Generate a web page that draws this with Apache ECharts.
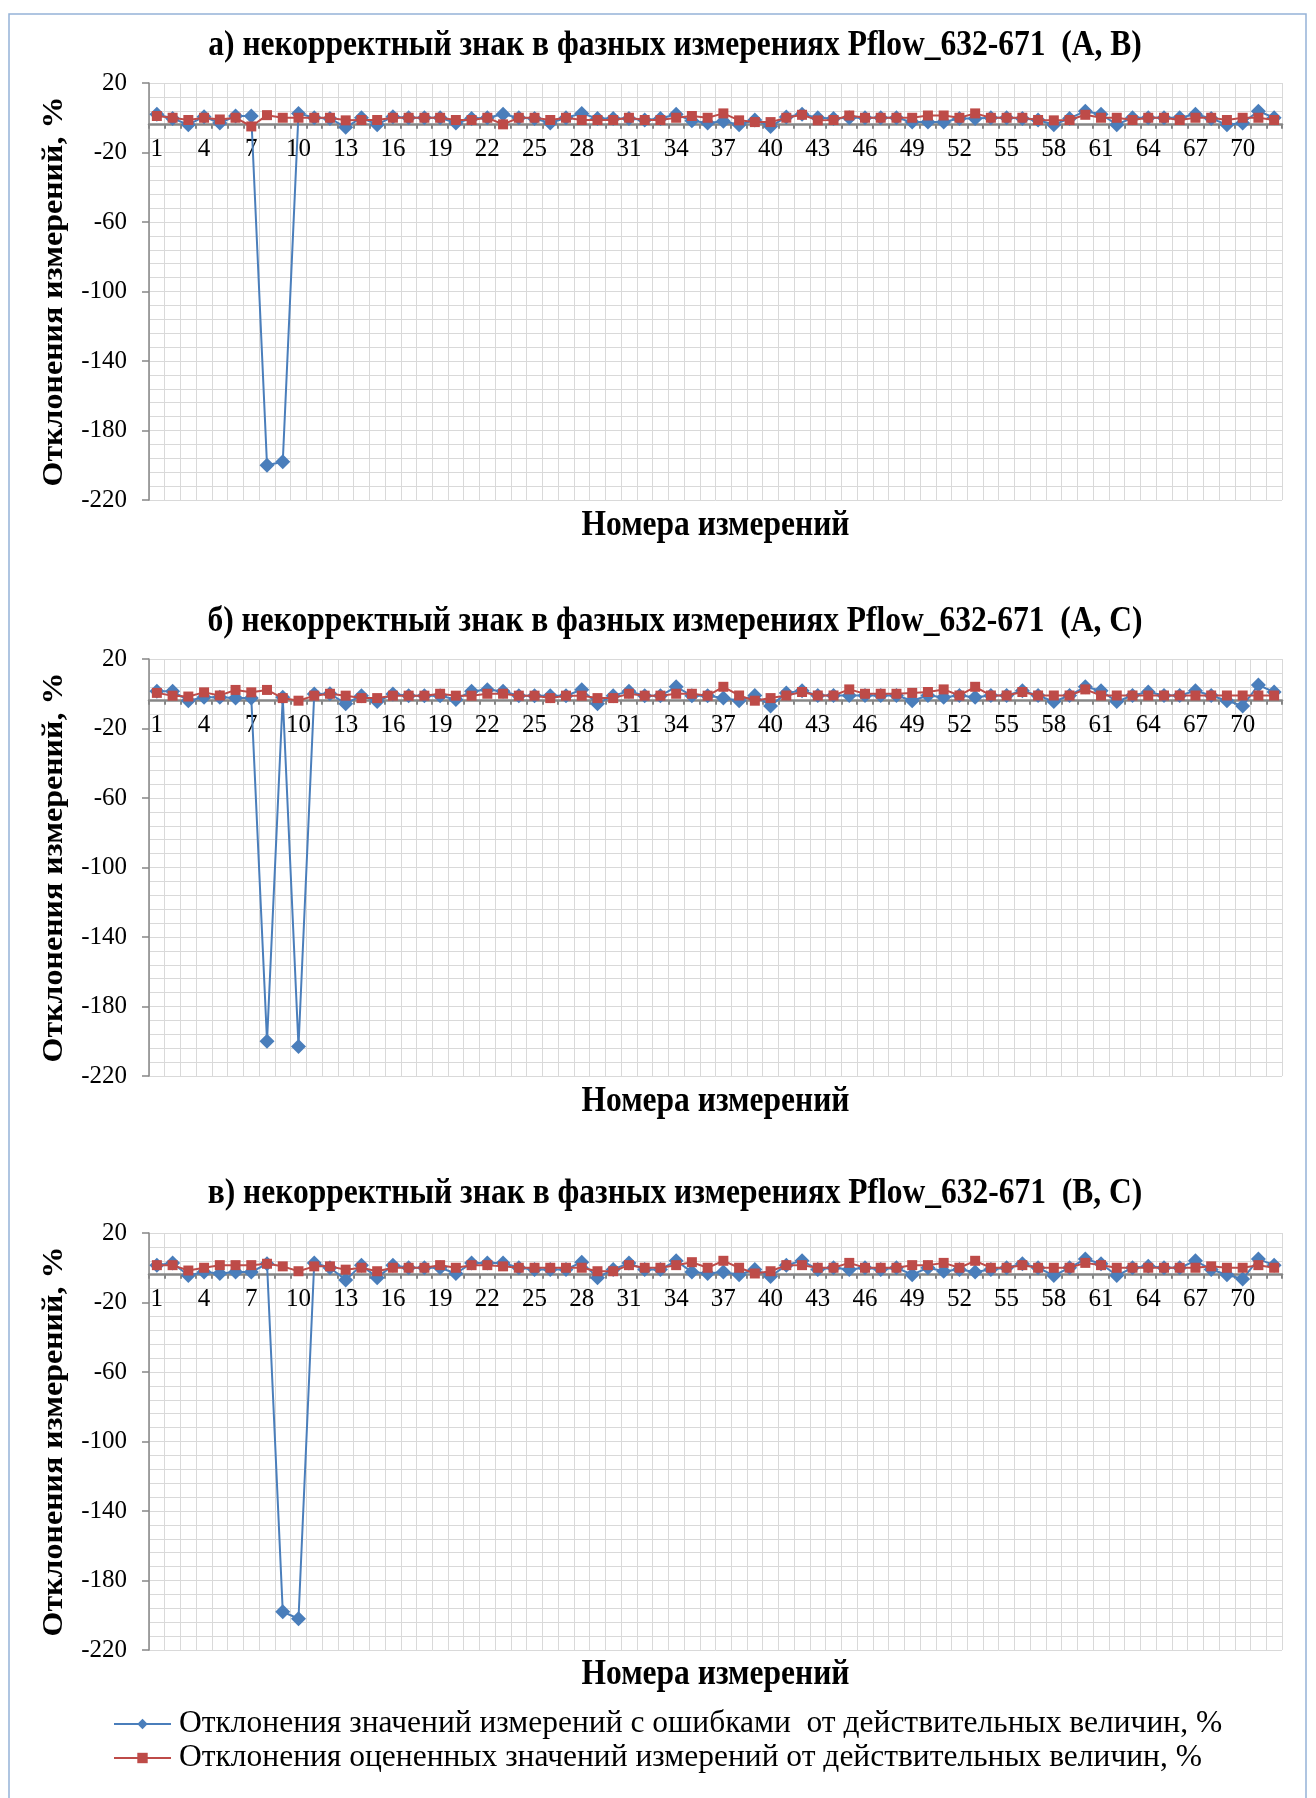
<!DOCTYPE html>
<html><head><meta charset="utf-8">
<script src="https://cdn.jsdelivr.net/npm/echarts@6/dist/echarts.min.js"></script>
<style>html,body{margin:0;padding:0;background:#fff}#c{width:1316px;height:1798px}</style>
</head><body><div id="c"></div>
<script>
// ---------- data ----------
const categories = Array.from({length: 72}, (_, i) => String(i + 1));
const yTickLabels = [20, -20, -60, -100, -140, -180, -220];
const xAxisCrossValue = -4;

const chartTitles = [
  'а) некорректный знак в фазных измерениях Pflow_632-671  (A, B)',
  'б) некорректный знак в фазных измерениях Pflow_632-671  (A, C)',
  'в) некорректный знак в фазных измерениях Pflow_632-671  (B, C)'
];
const xAxisName = 'Номера измерений';
const yAxisName = 'Отклонения измерений, %';
const seriesNames = [
  'Отклонения значений измерений с ошибками  от действительных величин, %',
  'Отклонения оцененных значений измерений от действительных величин, %'
];

const blueA = [2, -0.4, -4, 0.6, -3, 1, 1, -200, -198, 2.5, 0, -0.4, -5.5, 0, -4, 0.6, 0, 0, 0, -3,
  -0.4, 0, 2, 0, -0.4, -3, 0, 2.5, -0.4, -0.4, -0.4, -1.3, -0.4, 2, -1.7, -3, -2, -4, -1.3, -5,
  0.4, 2, 0, -0.4, 0, 0, 0, 0, -2.5, -2.5, -2.5, -0.4, -0.4, 0, 0, -0.4, -1.3, -4, -0.4, 3.8,
  2, -4, 0, 0, 0, 0, 2, -0.4, -4, -3, 3.8, 0];
const redA = [1, 0, -1.3, 0, -1, 0, -5, 1.5, 0, 0, 0, 0, -1.5, -1.3, -1.3, 0, 0, 0, 0, -1.3,
  -1.3, 0, -3.8, 0, 0, -1.3, 0, -1.3, -1.3, -1.3, 0, -1.3, -1.3, 0, 1, 0, 2.5, -1.5, -2.5, -2.5,
  0, 1.7, -1.5, -1.3, 1.3, 0, 0, 0, 0, 1.3, 1.3, 0, 2.5, 0, 0, 0, -1.3, -1.5, -1.3, 1.7,
  0, 0, -1.3, 0, 0, -1.3, 0, 0, -1.3, 0, 0, -1.3];

const blueB = [1.5, 1.5, -4, -2, -2, -2.5, -2.5, -200, -2, -203, -0.2, 0, -5.7, -1.1, -4.5, -0.2, -1.1, -1.1, -1.1, -3.3,
  1.5, 2.3, 1.5, -1.1, -1.1, -1.1, -1.1, 2.3, -5.7, -1.1, 1.5, -1.1, -1.1, 4, -1.1, -1.1, -2.4, -4, -1, -7,
  0.5, 1.7, -1, -1, -1, -1, -1, -1, -4, -1, -2, -1, -2, -1, -1, 1.7, -1, -4.5, -1, 4,
  1.7, -4.5, -1, 1, -1, -1, 1.7, -1, -4, -7, 5, 1];
const redB = [0.5, -1.1, -1.6, 0.8, -1, 2.2, 0.8, 2.2, -2.5, -4, -1.1, 0, -1.1, -2.5, -2.5, -1.1, -1.1, -1.1, 0, -1.1,
  -1.1, 0, 0, -1.1, -1.1, -2.5, -1.1, -1.1, -2.5, -2.5, 0, -1.1, -1.1, 0, 0, -1.1, 4, -1, -4, -2.5,
  -1, 1, -1, -1, 2.5, 0, 0, 0, 0.5, 1, 2.5, -1, 4, -1, -1, 1, -1, -1, -1, 2.5,
  -1, -1, -1, -1, -1, -1, -1, -1, -1, -1, -1, -1];

const blueC = [1.5, 2.7, -4.5, -2.5, -3.3, -2.5, -2.5, 2.3, -198, -202, 2.7, 0, -7, 1.5, -5.7, 1.5, 0, 0, 0, -3.3,
  2.7, 2.7, 2.7, 0, -1, -1, -1, 3.2, -5.7, -1, 2.7, -1, -1, 4, -2.5, -3.3, -2.5, -4, -1, -5,
  1.5, 4, -1, 0, -1, 0, -1, 0, -4, 0, -2, -1, -2.5, -1, 0, 2.3, 0, -4.5, 0, 5,
  2.3, -4.5, 0, 0.8, 0, 0, 4, -1, -4, -6.5, 5, 1.5];
const redC = [1.5, 1.5, -1.6, 0, 1.5, 1.5, 1.5, 2.3, 0.8, -2, 0.8, 0.8, -1.1, 0, -2, 0, 0, 0, 1.5, 0,
  1.5, 1.5, 0.8, 0, 0, 0, 0, 0, -2, -2, 1.5, 0, 0, 1.5, 3.2, 0, 4, 0, -3.3, -2,
  1.5, 1.5, 0, 0, 2.8, 0, 0, 0, 1.5, 1.5, 2.8, 0, 4, 0, 0, 1.5, 0, 0, 0, 2.8,
  1.5, 0, 0, 0, 0, 0, 0, 0.8, 0, 0, 1.5, 0];

const blueSets = [blueA, blueB, blueC];
const redSets = [redA, redB, redC];

// ---------- layout / style ----------
const FONT = '"Liberation Serif", "Times New Roman", serif';
const BLUE = '#4a7ebb';
const RED = '#be4b48';
const GRIDC = '#d9d9d9';
const AXISC = '#868686';
const gridTops = [83, 659, 1233];
const gridH = 417;
const gridLeft = 149, gridRight = 34;
const titleYs = [46, 622, 1194];
const xNameYs = [526, 1101.5, 1674.5];
const SQUEEZE = 0.9;

const yMax = Math.max(...yTickLabels), yMin = Math.min(...yTickLabels);
const yStep = yTickLabels[0] - yTickLabels[1];
// the category axis crosses the value axis at xAxisCrossValue
const xAxisOffset = -gridH * (xAxisCrossValue - yMin) / (yMax - yMin);

const grids = [], xAxes = [], yAxes = [], series = [], graphics = [];
graphics.push({type: 'rect', silent: true, z: -10,
  shape: {x: 9, y: 14, width: 1297, height: 1800},
  style: {fill: 'none', stroke: '#95b3d7', lineWidth: 1.5}});

for (let i = 0; i < 3; i++) {
  grids.push({left: gridLeft, right: gridRight, top: gridTops[i], height: gridH, containLabel: false});
  yAxes.push({
    gridIndex: i, type: 'value', min: yMin, max: yMax, interval: yStep,
    axisLine: {show: true, lineStyle: {color: AXISC, width: 1.5}},
    axisTick: {show: true, length: 7, lineStyle: {color: AXISC, width: 1.5}},
    axisLabel: {color: '#000', fontSize: 25, fontFamily: FONT, margin: 22},
    splitLine: {show: true, lineStyle: {color: GRIDC, width: 1}},
    minorTick: {show: false, splitNumber: 5},
    minorSplitLine: {show: true, lineStyle: {color: GRIDC, width: 1}}
  });
  xAxes.push({
    gridIndex: i, type: 'category', data: categories, boundaryGap: true,
    position: 'bottom', offset: xAxisOffset,
    axisLine: {show: true, onZero: false, lineStyle: {color: AXISC, width: 2.5}},
    axisTick: {show: true, interval: 0, length: 4, lineStyle: {color: AXISC, width: 2}},
    axisLabel: {interval: 2, color: '#000', fontSize: 25, fontFamily: FONT, margin: 12},
    splitLine: {show: true, interval: 0, lineStyle: {color: GRIDC, width: 1}}
  });
  series.push({
    name: seriesNames[0], type: 'line', xAxisIndex: i, yAxisIndex: i,
    data: blueSets[i], symbol: 'diamond', symbolSize: 15, showAllSymbol: true,
    lineStyle: {color: BLUE, width: 2}, itemStyle: {color: BLUE}, z: 3
  });
  series.push({
    name: seriesNames[1], type: 'line', xAxisIndex: i, yAxisIndex: i,
    data: redSets[i], symbol: 'rect', symbolSize: 10, showAllSymbol: true,
    lineStyle: {color: RED, width: 2}, itemStyle: {color: RED}, z: 4
  });
  graphics.push({type: 'text', x: 675, y: titleYs[i], scaleX: SQUEEZE, silent: true,
    style: {text: chartTitles[i], font: 'bold 35px ' + FONT, fill: '#000', align: 'center', verticalAlign: 'middle'}});
  graphics.push({type: 'text', x: gridLeft + (1316 - gridLeft - gridRight) / 2, y: xNameYs[i], scaleX: SQUEEZE, silent: true,
    style: {text: xAxisName, font: 'bold 35px ' + FONT, fill: '#000', align: 'center', verticalAlign: 'middle'}});
  graphics.push({type: 'text', x: 55, y: gridTops[i] + gridH / 2, rotation: Math.PI / 2, scaleY: SQUEEZE, silent: true,
    style: {text: yAxisName, font: 'bold 32px ' + FONT, fill: '#000', align: 'center', verticalAlign: 'middle'}});
}

const chart = echarts.init(document.getElementById('c'), null, {renderer: 'canvas'});
chart.setOption({
  animation: false,
  backgroundColor: '#fff',
  grid: grids, xAxis: xAxes, yAxis: yAxes, series: series,
  legend: {
    data: seriesNames, orient: 'vertical', left: 108, top: 1702,
    itemWidth: 57, itemHeight: 13, itemGap: 0,
    textStyle: {color: '#000', fontSize: 31.5, fontFamily: FONT, lineHeight: 34, padding: [0, 0, 0, 3]}
  },
  graphic: graphics
});
</script>
</body></html>
